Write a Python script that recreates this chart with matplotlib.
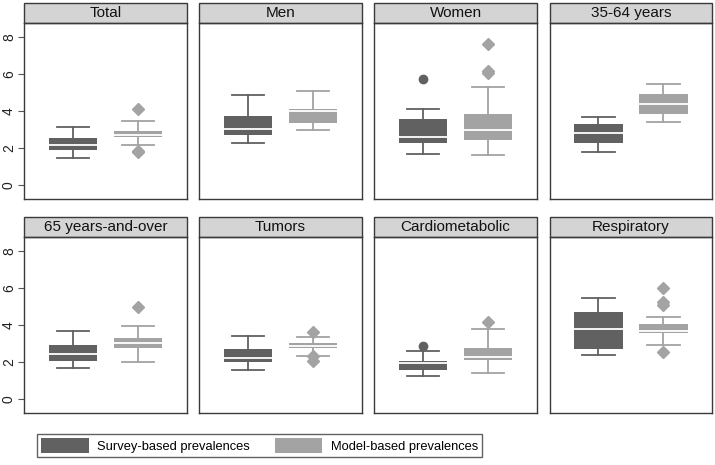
import matplotlib.pyplot as plt
from matplotlib.patches import Rectangle
from matplotlib import font_manager

plt.rcParams['font.family'] = ['Liberation Sans', 'DejaVu Sans']

panels = ['Total', 'Men', 'Women', '35-64 years',
          '65 years-and-over', 'Tumors', 'Cardiometabolic', 'Respiratory']
series = ['Survey-based prevalences', 'Model-based prevalences']

# box stats per panel: [survey, model]
whislo = [[1.48, 2.18], [2.26, 2.96], [1.70, 1.62], [1.77, 3.40],
          [1.67, 1.99], [1.56, 2.31], [1.22, 1.38], [2.39, 2.91]]
q1 = [[1.90, 2.62], [2.71, 3.38], [2.26, 2.44], [2.29, 3.83],
      [2.06, 2.78], [1.99, 2.74], [1.58, 2.10], [2.73, 3.57]]
med = [[2.18, 2.69], [3.02, 4.03], [2.62, 2.98], [2.83, 4.39],
       [2.46, 3.03], [2.22, 2.89], [1.94, 2.26], [3.78, 3.70]]
q3 = [[2.56, 2.92], [3.72, 4.12], [3.58, 3.83], [3.30, 4.93],
      [2.92, 3.28], [2.71, 3.05], [2.03, 2.76], [4.70, 4.09]]
whishi = [[3.14, 3.45], [4.88, 5.11], [4.13, 5.29], [3.67, 5.47],
          [3.70, 3.98], [3.39, 3.34], [2.62, 3.77], [5.45, 4.45]]
fliers = [[[], [4.13, 1.86, 1.80]], [[], []], [[5.74], [7.67, 6.19, 6.05]], [[], []],
          [[], [4.97]], [[], [3.61, 2.35, 2.08]], [[2.85], [4.18]], [[], [6.03, 5.26, 5.08, 2.53]]]

colors = ['#616161', '#a3a3a3']
markers = ['o', 'D']
frame = '#3a3a3a'

fig = plt.figure(figsize=(7.15, 4.65), dpi=100)
W, H = 715, 465
lefts = [24.3, 199.3, 374.3, 549.7]
tops = [22.7, 236.7]
pw, ph = 162.4, 176.4
strip_h = 20

for i, name in enumerate(panels):
    r, c = divmod(i, 4)
    ax = fig.add_axes([lefts[c] / W, 1 - (tops[r] + ph) / H, pw / W, ph / H])
    for k in range(2):
        st = [dict(whislo=whislo[i][k], q1=q1[i][k], med=med[i][k], q3=q3[i][k],
                   whishi=whishi[i][k], fliers=fliers[i][k])]
        col = colors[k]
        ax.bxp(st, positions=[k + 1], widths=0.75, patch_artist=True,
               capwidths=0.5,
               boxprops=dict(facecolor=col, edgecolor=col, linewidth=0),
               medianprops=dict(color='white', linewidth=1.3),
               whiskerprops=dict(color=col, linewidth=1.3),
               capprops=dict(color=col, linewidth=1.3),
               flierprops=dict(marker=markers[k], markerfacecolor=col,
                               markeredgecolor=col, markersize=6.5 if k else 6))
    ax.set_xlim(0.25, 2.75)
    ax.set_ylim(-0.77, 8.8)
    ax.set_xticks([])
    ax.set_yticks([0, 2, 4, 6, 8])
    if c == 0:
        ax.set_yticklabels(['0', '2', '4', '6', '8'], rotation=90, va='center',
                           fontsize=10, color='#222222')
        ax.tick_params(axis='y', length=4, color='#555555', pad=2)
    else:
        ax.tick_params(axis='y', left=False, labelleft=False)
    for sp in ax.spines.values():
        sp.set_color(frame)
        sp.set_linewidth(1.0)
    sh = strip_h / ph
    ax.add_patch(Rectangle((0, 1), 1, sh, transform=ax.transAxes, clip_on=False,
                           facecolor='#d4d4d4', edgecolor=frame, linewidth=1.0))
    ax.text(0.5, 1 + sh / 2, name, transform=ax.transAxes, ha='center', va='center',
            fontsize=11, color='#111111')

# legend text in the reference is narrow
names = {f.name for f in font_manager.fontManager.ttflist}
if 'Liberation Sans Narrow' in names:
    legfont = dict(family='Liberation Sans Narrow', size=11)
else:
    legfont = dict(family='Liberation Sans', size=9.3)

handles = [Rectangle((0, 0), 1, 1, facecolor=colors[k], edgecolor='none') for k in range(2)]
leg = fig.legend(handles, series, loc='center', bbox_to_anchor=(259.5 / W, 1 - 445.5 / H),
                 ncol=2, frameon=True, fancybox=False, prop=legfont,
                 handlelength=3.7, handleheight=1.35, columnspacing=1.9,
                 handletextpad=0.65, borderpad=0.35, borderaxespad=0)
leg.get_frame().set_edgecolor(frame)
leg.get_frame().set_linewidth(1.0)

fig.savefig('out.png', dpi=100)
